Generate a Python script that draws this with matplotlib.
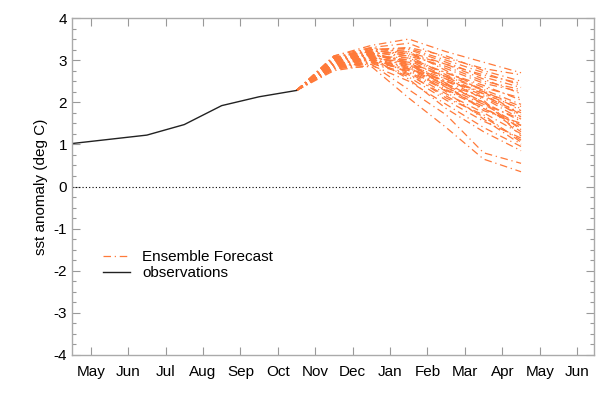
import numpy as np
import matplotlib.pyplot as plt
from matplotlib.ticker import MultipleLocator
from matplotlib.lines import Line2D

plt.rcParams['font.family'] = ['Liberation Sans', 'DejaVu Sans']
plt.rcParams['axes.unicode_minus'] = False

months = ['May', 'Jun', 'Jul', 'Aug', 'Sep', 'Oct', 'Nov', 'Dec',
          'Jan', 'Feb', 'Mar', 'Apr', 'May', 'Jun']

# observations (month index, end of month)
obs_t = [-0.5, 1.5, 2.5, 3.5, 4.5, 5.5]
obs_sst = [1.02, 1.22, 1.47, 1.92, 2.13, 2.28]

# ensemble forecast, start from last obs
fc_t = [5.5, 6.5, 7.5, 8.5, 9.5, 10.5, 11.5]
members = [
    [3.10, 3.35, 3.50, 3.20, 2.95, 2.70],
    [3.05, 3.30, 3.40, 3.05, 2.80, 2.65],
    [3.00, 3.25, 3.30, 3.10, 2.75, 2.50],
    [3.08, 3.20, 3.25, 2.95, 2.60, 2.35],
    [2.95, 3.15, 3.20, 2.90, 2.55, 2.20],
    [3.02, 3.22, 3.15, 2.80, 2.45, 2.25],
    [2.90, 3.10, 3.05, 2.70, 2.40, 2.05],
    [2.98, 3.18, 3.10, 2.65, 2.30, 1.95],
    [2.85, 3.05, 2.95, 2.60, 2.20, 1.85],
    [3.00, 3.12, 3.00, 2.55, 2.15, 1.75],
    [2.92, 3.00, 2.85, 2.50, 2.10, 1.60],
    [2.80, 2.95, 2.80, 2.40, 2.00, 1.55],
    [3.05, 3.28, 3.20, 2.75, 2.25, 1.70],
    [2.88, 3.08, 2.90, 2.45, 1.95, 1.45],
    [2.95, 3.15, 2.95, 2.35, 1.85, 1.40],
    [2.82, 2.98, 2.75, 2.30, 1.90, 1.30],
    [3.00, 3.20, 3.05, 2.60, 2.05, 1.20],
    [2.90, 3.05, 2.70, 2.20, 1.75, 1.25],
    [2.78, 2.92, 2.65, 2.15, 1.65, 1.10],
    [2.95, 3.10, 2.85, 2.25, 1.60, 1.00],
    [2.85, 3.00, 2.60, 2.05, 1.55, 1.15],
    [3.02, 3.15, 2.90, 2.40, 1.80, 1.50],
    [2.75, 2.88, 2.50, 1.95, 1.40, 0.95],
    [2.92, 3.05, 2.55, 1.85, 1.30, 0.85],
    [2.88, 2.90, 2.30, 1.70, 0.80, 0.55],
    [2.80, 2.85, 2.10, 1.40, 0.65, 0.35],
    [3.05, 3.25, 3.10, 2.85, 2.50, 2.30],
    [2.98, 3.12, 3.00, 2.70, 2.35, 2.10],
    [3.10, 3.30, 3.15, 2.90, 2.65, 2.45],
    [2.86, 3.02, 2.80, 2.50, 2.25, 1.90],
    [2.94, 3.08, 2.88, 2.55, 2.20, 1.65],
    [2.84, 2.96, 2.78, 2.35, 1.95, 1.60],
    [3.00, 3.18, 2.95, 2.45, 2.00, 1.35],
    [2.90, 3.04, 2.72, 2.28, 1.85, 1.45],
    [2.96, 3.14, 2.92, 2.62, 2.28, 1.80],
    [2.82, 2.94, 2.68, 2.10, 1.70, 1.05],
    [3.04, 3.24, 3.28, 3.00, 2.70, 2.40],
    [2.89, 3.06, 2.82, 2.42, 2.12, 1.70],
]

orange = '#ff7a3a'
dashdot = (0, (6, 3, 1, 3))

fig = plt.figure(figsize=(6.13, 3.99), dpi=100)
ax = fig.add_axes([72/613, 1-355/399, (594-72)/613, (355-18)/399])

for m in members:
    ax.plot(fc_t, [obs_sst[-1]] + m, color=orange, lw=0.9, linestyle=dashdot)

ax.plot(obs_t, obs_sst, color='#222222', lw=1.0)
ax.plot([obs_t[0], fc_t[-1]], [0, 0], color='black', lw=0.8, linestyle=(0, (1, 2)))

ax.set_xlim(-0.5, 13.45)
ax.set_ylim(-4, 4)
ax.set_xticks(range(len(months)))
ax.set_xticklabels(months)
ax.yaxis.set_major_locator(MultipleLocator(1))
ax.yaxis.set_minor_locator(MultipleLocator(0.25))
ax.tick_params(which='both', direction='in', top=True, right=True,
               color='#999999', labelsize=11, labelcolor='black')
ax.tick_params(which='major', length=6, width=0.8)
ax.tick_params(which='minor', length=3, width=0.8)
ax.tick_params(axis='x', pad=7)
for s in ax.spines.values():
    s.set_color('#aaaaaa')
    s.set_linewidth(1.0)
ax.set_ylabel('sst anomaly (deg C)', fontsize=11)

handles = [Line2D([], [], color=orange, lw=0.9, linestyle=dashdot),
           Line2D([], [], color='#222222', lw=1.0)]
ax.legend(handles, ['Ensemble Forecast', 'observations'], frameon=False,
          loc='upper left', bbox_to_anchor=(0.033, 0.352), fontsize=11,
          handlelength=1.8, handletextpad=0.75, labelspacing=0.15)

plt.savefig('out.png', dpi=100)
